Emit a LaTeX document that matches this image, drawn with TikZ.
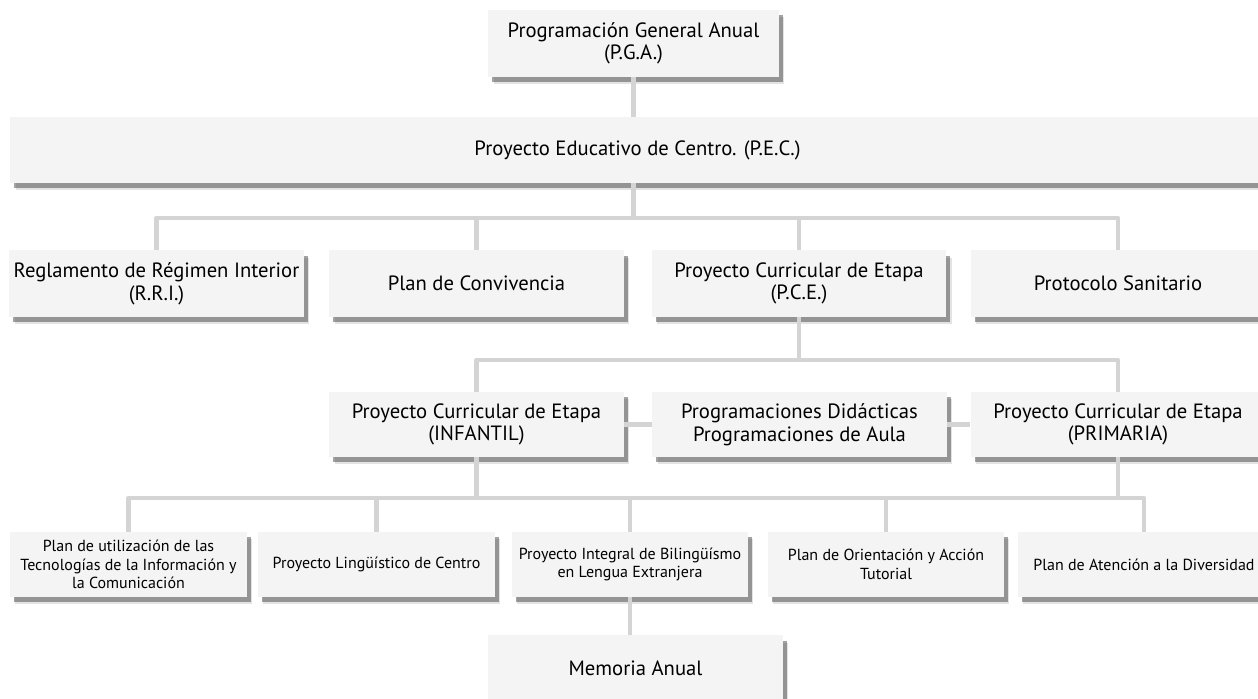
\documentclass[tikz,border=0pt]{standalone}
\usepackage{fontspec}
\setmainfont{PT Sans}
\usetikzlibrary{shadows}
\definecolor{cajagris}{HTML}{F4F4F4}
\definecolor{lineagris}{HTML}{D4D4D4}

\begin{document}
\begin{tikzpicture}[
    x=0.75pt, y=-0.75pt,
    caja/.style={
        % La forma:
        rectangle,
        % El tamaño:
        minimum width=221pt,
        minimum height=50pt,
        inner sep=0pt,
        % Sin borde
        draw=none,
        % El relleno
        fill=cajagris,
        % La sombra
        drop shadow={shadow xshift=4pt, shadow yshift=-5.5pt, fill=black!22},
        drop shadow={shadow xshift=3pt, shadow yshift=-4pt, fill=black!72},
        % Fuente
        font=\fontsize{15.5}{17}\selectfont,
        align=center
    },
    cajita/.style={
        caja,
        minimum height=48.75pt,
        font=\fontsize{12}{13.75}\selectfont
    },
    conector/.style={
        line width=3.5pt,
        draw=lineagris,
        line join=round
    }]

    \useasboundingbox (0,0) rectangle (1258,699);

    \node [caja, minimum width=218pt] (pga) at (633.5,43.5) {Programación General Anual\\(P.G.A.)};
    \node [caja, minimum width=941pt, minimum height=49.5pt] (pec) at (637.5,150) {Proyecto Educativo de Centro. (P.E.C.)};

    \foreach \x/\nombre/\texto in {156.5/rri/{Reglamento de Régimen Interior\\(R.R.I.)}, 476.5/conv/{Plan de Convivencia}, 799/pce/{Proyecto Curricular de Etapa\\(P.C.E.)}, 1118/sanitario/{Protocolo Sanitario}}
    {
        \node [caja] (\nombre) at (\x,283.5) {\texto};
    }

    \node [caja, minimum height=48.75pt] (infantil) at (476.5,424.5) {Proyecto Curricular de Etapa\\(INFANTIL)};
    \node [caja, minimum height=48.75pt] (didacticas) at (799.5,424.5) {Programaciones Didácticas\\Programaciones de Aula};
    \node [caja, minimum height=48.75pt] (primaria) at (1118,424.5) {Proyecto Curricular de Etapa\\(PRIMARIA)};

    \foreach \x/\ancho/\nombre/\texto in {128.5/177.75/tic/{Plan de utilización de las\\Tecnologías de la Información y\\la Comunicación}, 376.5/177.75/linguistico/{Proyecto Lingüístico de Centro}, 630/177/bilinguismo/{Proyecto Integral de Bilingüísmo\\en Lengua Extranjera}, 886/177/orientacion/{Plan de Orientación y Acción\\Tutorial}, 1144/189/diversidad/{Plan de Atención a la Diversidad}}
    {
        \node [cajita, minimum width=\ancho pt] (\nombre) at (\x,564.5) {\texto};
    }

    \node [caja] (memoria) at (635.5,668.5) {Memoria Anual};

    % conectores
    \coordinate (b3) at (0,218);
    \coordinate (b4) at (0,360);
    \coordinate (b5) at (0,498);

    \draw [conector] (pga.south) -- (pga.south |- pec.north);
    \draw [conector] (pga.south |- pec.south) -- (pga.south |- b3);
    \draw [conector] (rri.north) |- (sanitario.north |- b3) -- (sanitario.north);
    \foreach \nombre in {conv, pce}
        \draw [conector] (\nombre.north) -- (\nombre.north |- b3);

    \draw [conector] (pce.south) -- (pce.south |- b4);
    \draw [conector] (infantil.north) |- (primaria.north |- b4) -- (primaria.north);
    \draw [conector] (infantil.east) -- (didacticas.west);
    \draw [conector] (didacticas.east) -- (primaria.west);

    \draw [conector] (infantil.south) -- (infantil.south |- b5);
    \draw [conector] (primaria.south) -- (primaria.south |- b5);
    \draw [conector] (tic.north) |- (diversidad.north |- b5) -- (diversidad.north);
    \foreach \nombre in {linguistico, bilinguismo, orientacion}
        \draw [conector] (\nombre.north) -- (\nombre.north |- b5);
    \draw [conector] (bilinguismo.south) -- (bilinguismo.south |- memoria.north);
\end{tikzpicture}
\end{document}
